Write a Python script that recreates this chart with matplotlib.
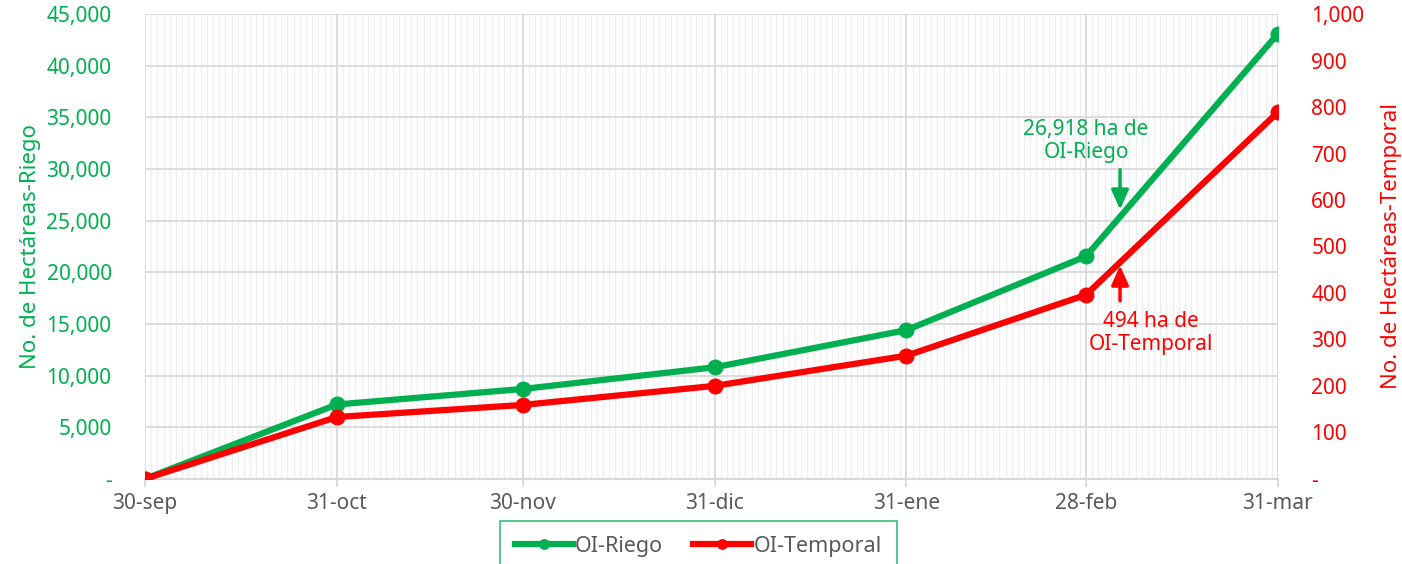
import numpy as np
import pandas as pd
import matplotlib
matplotlib.use("Agg")
import matplotlib.pyplot as plt
import matplotlib.dates as mdates
from matplotlib.ticker import FuncFormatter

plt.rcParams['font.family'] = ['Noto Sans', 'DejaVu Sans']

fechas = pd.to_datetime(["2023-09-30", "2023-10-31", "2023-11-30", "2023-12-31",
                         "2024-01-31", "2024-02-29", "2024-03-31"])
etiquetas = ["30-sep", "31-oct", "30-nov", "31-dic", "31-ene", "28-feb", "31-mar"]
riego = [0, 7200, 8700, 10800, 14400, 21550, 43100]
temporal = [0, 133, 159, 200, 265, 396, 789]

verde = "#00B050"
rojo = "#FF0000"
gris = "#595959"

fig = plt.figure(figsize=(14.02, 5.64), dpi=100)
ax = fig.add_axes([0.1034, 0.151, 0.8081, 0.824])
ax2 = ax.twinx()

l1, = ax.plot(fechas, riego, color=verde, lw=4.5, marker="o", ms=10.5, label="OI-Riego", zorder=3)
l2, = ax2.plot(fechas, temporal, color=rojo, lw=4.5, marker="o", ms=10.5, label="OI-Temporal", zorder=3)

ax.set_xlim(fechas[0], fechas[-1])
ax.set_ylim(0, 45000)
ax2.set_ylim(0, 1000)
ax.set_yticks(np.arange(0, 45001, 5000))
ax2.set_yticks(np.arange(0, 1001, 100))

fmt = FuncFormatter(lambda v, p: "-" if v == 0 else f"{v:,.0f}")
ax.yaxis.set_major_formatter(fmt)
ax2.yaxis.set_major_formatter(fmt)

ax.set_xticks(fechas)
ax.set_xticklabels(etiquetas)
ax.xaxis.set_minor_locator(mdates.DayLocator())

ax.grid(which="major", color="#D9D9D9", lw=1.3)
ax.grid(which="minor", axis="x", color="#EEEEEE", lw=1.0)
ax.set_axisbelow(True)

for a in (ax, ax2):
    for s in a.spines.values():
        s.set_visible(False)
ax.spines["bottom"].set_visible(True)
ax.spines["bottom"].set_color("#D9D9D9")
ax.spines["bottom"].set_linewidth(1.5)

ax.tick_params(axis="x", which="major", colors="#D9D9D9", length=6, width=1.3,
               labelcolor=gris, labelsize=15, pad=4)
ax.tick_params(axis="x", which="minor", length=0)
ax.tick_params(axis="y", length=0, labelcolor=verde, labelsize=15, pad=24)
ax2.tick_params(axis="y", length=0, labelcolor=rojo, labelsize=15, pad=24)

ax.set_ylabel("No. de Hectáreas-Riego", color=verde, fontsize=16, labelpad=4)
ax2.set_ylabel("No. de Hectáreas-Temporal", color=rojo, fontsize=16, labelpad=12)

# anotaciones
x_flecha = fechas[5] + pd.Timedelta(days=5.5)
flecha = "-|>,head_width=0.4,head_length=0.9"
ax.annotate("", xy=(x_flecha, 25800), xytext=(x_flecha, 30200),
            arrowprops=dict(arrowstyle=flecha, color=verde, lw=2.5, mutation_scale=13))
ax.text(fechas[5], 30600, "26,918 ha de\nOI-Riego", color=verde, fontsize=15,
        ha="center", va="bottom", linespacing=1.1)
ax2.annotate("", xy=(x_flecha, 465), xytext=(x_flecha, 377),
             arrowprops=dict(arrowstyle=flecha, color=rojo, lw=2.5, mutation_scale=13))
ax2.text(fechas[5] + pd.Timedelta(days=10.5), 361, "494 ha de\nOI-Temporal", color=rojo,
         fontsize=15, ha="center", va="top", linespacing=1.1)

leg = fig.legend(handles=[l1, l2], loc="upper center", bbox_to_anchor=(0.498, 0.077),
                 ncol=2, frameon=True, fontsize=15.5, handlelength=2.7, columnspacing=1.4,
                 handletextpad=0.1, markerscale=0.65, borderpad=0.7, borderaxespad=0,
                 fancybox=False)
leg.get_frame().set_edgecolor(verde)
leg.get_frame().set_linewidth(1.2)
for t in leg.get_texts():
    t.set_color(gris)

fig.savefig("out.png", dpi=100)
